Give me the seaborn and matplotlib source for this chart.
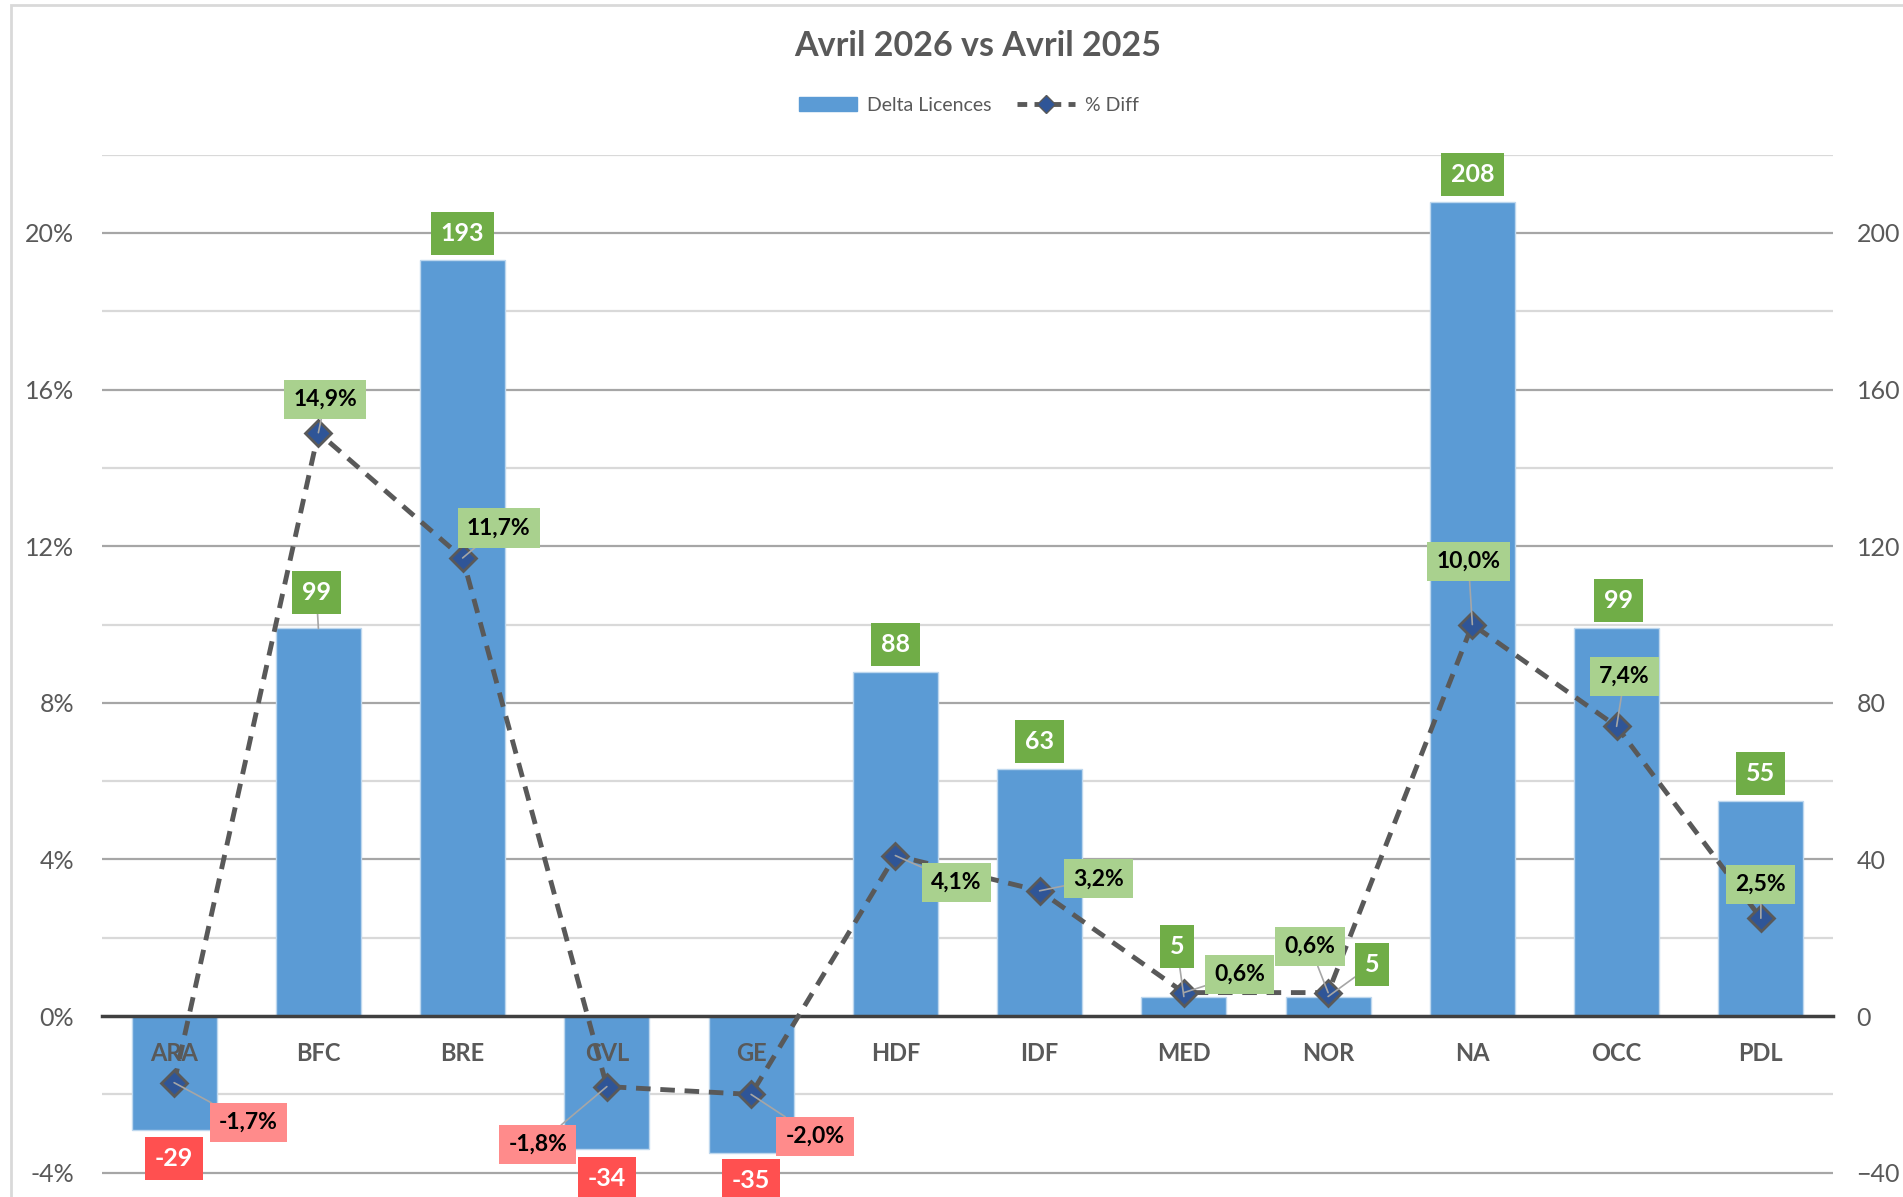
import numpy as np
import pandas as pd
import matplotlib
matplotlib.use("Agg")
import matplotlib.pyplot as plt
import seaborn as sns
from matplotlib.patches import Patch, Rectangle
from matplotlib.lines import Line2D
from matplotlib.ticker import FuncFormatter

# ---------------- data ----------------
regions = ["ARA", "BFC", "BRE", "CVL", "GE", "HDF", "IDF", "MED", "NOR", "NA", "OCC", "PDL"]
delta_licences = [-29, 99, 193, -34, -35, 88, 63, 5, 5, 208, 99, 55]
pct_diff = [-1.7, 14.9, 11.7, -1.8, -2.0, 4.1, 3.2, 0.6, 0.6, 10.0, 7.4, 2.5]

# label placement (pixels, relative to the point; +y = up)
bar_label_off = [(0, -29), (-2, 36), (0, 27), (0, -29), (0, -27), (0, 27),
                 (0, 28), (-7, 50), (44, 32), (0, 27), (2, 28), (0, 27)]
pct_label_off = [(74, -40), (7, 33), (36, 30), (-69, -58), (64, -42), (61, -27),
                 (59, 12), (56, 18), (-18, 46), (-4, 63), (8, 50), (0, 34)]

df = pd.DataFrame({"region": regions, "delta": delta_licences,
                   "pct": [p / 100 for p in pct_diff]})

sns.set_theme(style="white")
plt.rcParams["font.family"] = ["Lato", "DejaVu Sans"]

GRAY = "#595959"
fig = plt.figure(figsize=(19.03, 11.97), dpi=100)
ax = fig.add_axes([0.0536, 0.0, 0.9096, 0.8708])
ax2 = ax.twinx()

# bars (counts) on ax
sns.barplot(data=df, x="region", y="delta", order=regions, color="#5B9BD5",
            saturation=1, width=0.59, edgecolor="#BDD7EE", linewidth=1, ax=ax, zorder=2)
ax.set_ylim(-46.2, 220)
ax.set_xlim(-0.5, 11.5)

# % line on ax2
sns.lineplot(data=df, x="region", y="pct", ax=ax2, color="#595959", lw=3.5,
             linestyle=(0, (3, 2)), marker="D", markersize=13,
             markerfacecolor="#2F5597", markeredgecolor="#595959", markeredgewidth=2,
             sort=False, zorder=5)
ax2.set_ylim(-0.0462, 0.22)

# grid lines
for v in np.arange(-40, 221, 20):
    major = (v % 40 == 0)
    if v == 0:
        continue
    ax.axhline(v, color="#A6A6A6" if major else "#D9D9D9", lw=1.6, zorder=0)

# zero line as the x axis
for s in ["top", "left", "right"]:
    ax.spines[s].set_visible(False)
    ax2.spines[s].set_visible(False)
ax2.spines["bottom"].set_visible(False)
ax.spines["bottom"].set_position(("data", 0))
ax.spines["bottom"].set_color("#404040")
ax.spines["bottom"].set_linewidth(2.5)
ax.spines["bottom"].set_zorder(3)
ax.xaxis.set_zorder(3)
ax.set_xlabel("")
ax.set_ylabel("")
ax2.set_ylabel("")
ax.set_xticks(range(len(regions)))
ax.set_xticklabels(regions, fontweight="bold", fontsize=17, color=GRAY)
ax.tick_params(axis="x", length=0, pad=19)

# y ticks: percent on the left, counts on the right
ax.yaxis.tick_right()
ax2.yaxis.tick_left()
ax2.yaxis.set_major_formatter(FuncFormatter(lambda v, p: f"{v*100:.0f}%"))
ax.set_yticks([-40, 0, 40, 80, 120, 160, 200])
ax2.set_yticks([-0.04, 0, 0.04, 0.08, 0.12, 0.16, 0.20])
ax.tick_params(axis="y", length=0, pad=17, labelsize=18, labelcolor=GRAY)
ax2.tick_params(axis="y", length=0, pad=20, labelsize=18, labelcolor=GRAY)

# bar labels
for i, (v, off) in enumerate(zip(delta_licences, bar_label_off)):
    fc = "#70AD47" if v >= 0 else "#FF5050"
    arrow = None
    if np.hypot(*off) > 33:
        arrow = dict(arrowstyle="-", color="#A6A6A6", lw=1.2, shrinkA=0, shrinkB=0)
    ax2.annotate(str(v), xy=(i, v / 1000), xytext=off, textcoords="offset pixels",
                 ha="center", va="center", fontsize=18, fontweight="bold", color="white",
                 bbox=dict(boxstyle="square,pad=0.4", fc=fc, ec="none"),
                 arrowprops=arrow, zorder=6, annotation_clip=False)

# % labels
for i, (p, off) in enumerate(zip(pct_diff, pct_label_off)):
    fc = "#A9D18E" if p >= 0 else "#FF8B8B"
    ax2.annotate(f"{p:.1f}%".replace(".", ","), xy=(i, p / 100), xytext=off,
                 textcoords="offset pixels", ha="center", va="center", fontsize=16.5,
                 fontweight="bold", color="black",
                 bbox=dict(boxstyle="square,pad=0.4", fc=fc, ec="none"),
                 arrowprops=dict(arrowstyle="-", color="#A6A6A6", lw=1.2,
                                 shrinkA=0, shrinkB=0),
                 zorder=7, annotation_clip=False)

if ax2.get_legend() is not None:
    ax2.get_legend().remove()

# title and legend
fig.text(0.514, 0.9616, "Avril 2026 vs Avril 2025", ha="center", va="center",
         fontsize=24.5, fontweight="bold", color=GRAY)
handles = [Patch(color="#5B9BD5", label="Delta Licences"),
           Line2D([0], [0], color="#595959", lw=3.5, linestyle=(0, (2, 1.5)), marker="D",
                  markersize=9, markerfacecolor="#2F5597", markeredgecolor="#595959",
                  label="% Diff")]
fig.legend(handles=handles, loc="center", bbox_to_anchor=(0.509, 0.912), ncol=2,
           frameon=False, fontsize=14, labelcolor=GRAY, handlelength=3.0,
           columnspacing=1.3, handletextpad=0.5)

# chart border
fig.patches.append(Rectangle((11 / 1903, -0.01), 1.1, 1 - 5 / 1197 + 0.01,
                             transform=fig.transFigure, fill=False,
                             ec="#D9D9D9", lw=2))

fig.savefig("out.png", dpi=100)
